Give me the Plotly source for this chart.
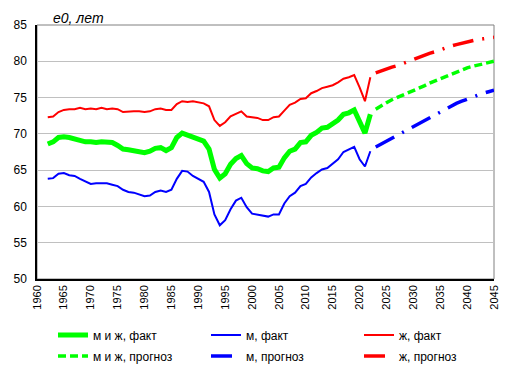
import plotly.graph_objects as go

years_fact = list(range(1962, 2023))
total_fact = [68.6, 68.9, 69.5, 69.6, 69.5, 69.3, 69.2, 68.9, 68.9, 68.8, 68.9, 68.8, 68.8, 68.4,
              67.9, 67.8, 67.7, 67.5, 67.4, 67.6, 68.0, 68.1, 67.7, 68.1, 69.5, 70.1, 69.8, 69.6,
              69.2, 69.0, 67.9, 65.1, 63.9, 64.5, 65.8, 66.6, 67.0, 65.9, 65.3, 65.2, 64.9, 64.8,
              65.3, 65.4, 66.7, 67.6, 67.9, 68.8, 68.9, 69.8, 70.2, 70.8, 70.9, 71.4, 71.9, 72.7,
              72.9, 73.3, 71.5, 70.1, 72.7]
male_fact = [63.8, 63.9, 64.5, 64.6, 64.3, 64.2, 63.8, 63.5, 63.1, 63.2, 63.2, 63.2, 63.0, 62.8,
             62.3, 62.0, 61.9, 61.7, 61.4, 61.5, 62.0, 62.2, 62.0, 62.3, 63.8, 64.9, 64.8, 64.2,
             63.8, 63.4, 62.0, 58.9, 57.4, 58.1, 59.6, 60.8, 61.2, 59.9, 59.0, 58.9, 58.7, 58.6,
             58.9, 58.9, 60.4, 61.4, 61.9, 62.8, 63.1, 64.0, 64.6, 65.1, 65.3, 65.9, 66.5, 67.5,
             67.8, 68.2, 66.5, 65.5, 67.6]
female_fact = [72.3, 72.4, 73.0, 73.3, 73.4, 73.4, 73.6, 73.4, 73.5, 73.4, 73.6, 73.4, 73.5, 73.4,
               73.0, 73.1, 73.1, 73.1, 73.0, 73.1, 73.4, 73.5, 73.3, 73.3, 74.1, 74.5, 74.4, 74.5,
               74.3, 74.2, 73.8, 71.9, 71.1, 71.6, 72.4, 72.8, 73.1, 72.4, 72.3, 72.2, 71.9, 71.9,
               72.3, 72.4, 73.2, 74.0, 74.3, 74.8, 74.9, 75.6, 75.9, 76.3, 76.5, 76.7, 77.1, 77.6,
               77.8, 78.1, 76.4, 74.5, 77.8]

years_fc = list(range(2023, 2046))
total_fc = [73.4, 73.9, 74.3, 74.7, 75.0, 75.3, 75.6, 75.9, 76.3, 76.6, 77.0, 77.3, 77.7, 78.0,
            78.3, 78.6, 78.8, 79.1, 79.3, 79.5, 79.7, 79.9, 80.0]
male_fc = [68.2, 68.6, 69.0, 69.4, 69.8, 70.3, 70.7, 71.1, 71.5, 71.9, 72.3, 72.7, 73.1, 73.5,
           73.8, 74.2, 74.5, 74.8, 75.1, 75.4, 75.6, 75.8, 76.0]
female_fc = [78.4, 78.7, 78.9, 79.2, 79.4, 79.7, 79.9, 80.2, 80.5, 80.8, 81.1, 81.3, 81.6, 81.9,
             82.1, 82.3, 82.5, 82.7, 82.8, 83.0, 83.1, 83.2, 83.3]

names = ["м и ж, факт", "м, факт", "ж, факт", "м и ж, прогноз", "м, прогноз", "ж, прогноз"]
y_ticks = list(range(50, 90, 5))
x_ticks = list(range(1960, 2050, 5))

GREEN = "#00ff00"
BLUE = "#0000ff"
RED = "#ff0000"
FONT = "Liberation Sans, Arial, sans-serif"

# the page body adds an 8px margin, so the figure is laid out 8px smaller
W, H = 501, 363
series = [
    (years_fact, total_fact, dict(color=GREEN, width=5)),
    (years_fact, male_fact, dict(color=BLUE, width=2)),
    (years_fact, female_fact, dict(color=RED, width=2)),
    (years_fc, total_fc, dict(color=GREEN, width=3.5, dash="8px,4px")),
    (years_fc, male_fc, dict(color=BLUE, width=3.5, dash="21px,9px,2px,9px")),
    (years_fc, female_fc, dict(color=RED, width=3.5, dash="21px,9px,2px,9px")),
]

# legend grid: 3 columns x 2 rows below the plot
leg_left = [45, 198, 351]
leg_row_y = [327, 348]

fig = go.Figure()
legend_layouts = {}
for i, (xs, ys, ln) in enumerate(series):
    key = "legend" if i == 0 else f"legend{i + 1}"
    fig.add_trace(go.Scatter(x=xs, y=ys, mode="lines", name=names[i], line=ln, legend=key))
    legend_layouts[key] = dict(
        xref="container", yref="container",
        x=leg_left[i % 3] / W, y=1 - leg_row_y[i // 3] / H,
        xanchor="left", yanchor="middle", orientation="h",
        font=dict(family=FONT, size=12, color="#000"),
        bgcolor="rgba(0,0,0,0)", borderwidth=0,
        itemclick=False, itemdoubleclick=False,
    )

title_ann = dict(text="<i>e0, лет</i>", xref="paper", yref="paper", x=0.03, y=1.066,
                 xanchor="left", yanchor="top", showarrow=False,
                 font=dict(family=FONT, size=14, color="#000"))

fig.update_layout(
    width=W, height=H,
    margin=dict(l=29, r=15, t=17, b=92, autoexpand=False),
    paper_bgcolor="white", plot_bgcolor="white",
    font=dict(family=FONT, size=11, color="#000"),
    showlegend=True,
    xaxis=dict(range=[1960, 2045], tickmode="array", tickvals=x_ticks,
               ticktext=[str(v) for v in x_ticks], tickangle=-90, automargin=False,
               showgrid=False, zeroline=False, showline=True, linecolor="#000",
               linewidth=1.5, ticks="", tickfont=dict(size=11, family=FONT)),
    yaxis=dict(range=[50, 85], tickmode="array", tickvals=y_ticks, automargin=False,
               ticktext=[str(v) for v in y_ticks], showgrid=True, gridcolor="#c0c0c0",
               gridwidth=1, zeroline=False, showline=True, linecolor="#000", linewidth=1.5,
               ticks="", ticklabelstandoff=6, tickfont=dict(size=12, family=FONT)),
    shapes=[dict(type="rect", xref="paper", yref="paper", x0=0, x1=1, y0=0, y1=1,
                 line=dict(color="#808080", width=1), layer="below")],
    annotations=[title_ann],
    **legend_layouts,
)

fig.write_html("out.html")
